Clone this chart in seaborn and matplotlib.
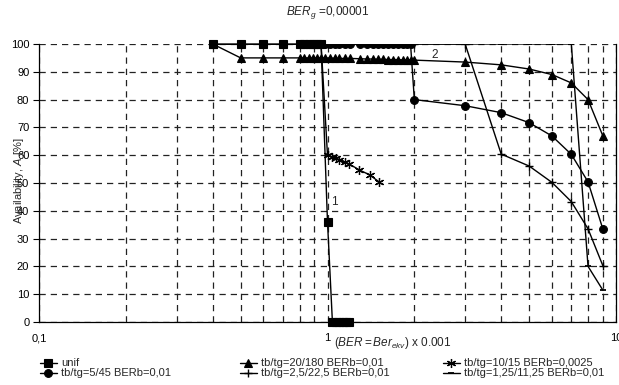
import matplotlib
matplotlib.use("Agg")
import matplotlib.pyplot as plt
import seaborn as sns
from matplotlib.legend import Legend
from matplotlib.ticker import FixedLocator, NullFormatter

# series values (x in units of 0.001)
unif_x = [0.4, 0.5, 0.6, 0.7, 0.8, 0.83, 0.86, 0.89, 0.92, 0.95, 1.0,
          1.04, 1.07, 1.1, 1.13, 1.16, 1.19]
unif_y = [100, 100, 100, 100, 100, 100, 100, 100, 100, 100, 36,
          0, 0, 0, 0, 0, 0]

tri_x = [0.4, 0.5, 0.6, 0.7, 0.8, 0.83, 0.86, 0.89, 0.92, 0.95, 0.98, 1.02,
         1.06, 1.1, 1.15, 1.2, 1.3, 1.37, 1.44, 1.5, 1.56, 1.62, 1.69, 1.75,
         1.82, 1.88, 1.94, 2.0, 3, 4, 5, 6, 7, 8, 9]
tri_y = [100, 95, 95, 95, 95, 95, 95, 95, 95, 95, 95, 94.9,
         94.9, 94.8, 94.8, 94.8, 94.7, 94.6, 94.6, 94.5, 94.5, 94.4, 94.4, 94.4,
         94.3, 94.3, 94.3, 94.2, 93.5, 92.5, 91, 89, 86, 80, 67]

star_x = [0.4, 0.5, 0.6, 0.7, 0.8, 0.83, 0.86, 0.89, 0.92, 0.95, 1.0,
          1.04, 1.07, 1.1, 1.15, 1.19, 1.29, 1.4, 1.51]
star_y = [100, 100, 100, 100, 100, 100, 100, 100, 100, 100, 60,
          59.4, 59, 58.3, 57.5, 56.8, 54.7, 52.9, 50.4]

circ_x = [0.4, 0.5, 0.6, 0.7, 0.8, 0.83, 0.86, 0.89, 0.92, 0.95, 0.98, 1.02,
          1.06, 1.1, 1.15, 1.2, 1.3, 1.37, 1.44, 1.5, 1.56, 1.62, 1.69, 1.75,
          1.82, 1.88, 1.94, 2.0, 3, 4, 5, 6, 7, 8, 9]
circ_y = [100, 100, 100, 100, 100, 100, 100, 100, 100, 100, 100, 100,
          100, 100, 100, 100, 100, 100, 100, 100, 100, 100, 100, 100,
          100, 100, 100, 80, 77.8, 75.3, 71.7, 66.9, 60.3, 50.4, 33.5]

plus_x = [0.4, 0.5, 0.6, 0.7, 0.8, 0.9, 1.0, 2.0, 3, 4, 5, 6, 7, 8, 9]
plus_y = [100, 100, 100, 100, 100, 100, 100, 100, 100, 60.4, 56.1, 50.2, 43.3, 33.5, 20.3]

dash_x = [0.4, 0.5, 0.6, 0.7, 0.8, 0.9, 1.0, 2.0, 3, 4, 5, 6, 7, 8, 9]
dash_y = [100, 100, 100, 100, 100, 100, 100, 100, 100, 100, 100, 100, 100, 20, 11.5]

labels = ["unif", "tb/tg=20/180 BERb=0,01", "tb/tg=10/15 BERb=0,0025",
          "tb/tg=5/45 BERb=0,01", "tb/tg=2,5/22,5 BERb=0,01", "tb/tg=1,25/11,25 BERb=0,01"]
y_ticks = [0, 10, 20, 30, 40, 50, 60, 70, 80, 90, 100]
x_ticks = [0.1, 1, 10]
x_ticklabels = ["0,1", "1", "10"]

sns.set_theme(style="white")
plt.rcParams["font.family"] = ["Liberation Sans", "DejaVu Sans"]
plt.rcParams["mathtext.fontset"] = "custom"
plt.rcParams["mathtext.it"] = "Liberation Sans:italic"
plt.rcParams["mathtext.rm"] = "Liberation Sans"

W, H = 619, 385
fig = plt.figure(figsize=(W / 100, H / 100), dpi=100)
ax = fig.add_axes([39 / W, 1 - 322 / H, (616 - 39) / W, (322 - 44) / H])


def draw(x, y, marker, ms, mew=0.8, clip=True):
    sns.lineplot(x=x, y=y, ax=ax, color="black", linewidth=1.0, marker=marker,
                 markersize=ms, markeredgewidth=mew, markeredgecolor="black",
                 estimator=None, sort=False)
    line = ax.get_lines()[-1]
    line.set_clip_on(clip)
    return line


h_dash = draw(dash_x, dash_y, "_", 5, mew=1.3)
h_plus = draw(plus_x, plus_y, "+", 6, mew=1.0)
h_star = draw(star_x, star_y, (6, 2, 0), 6.5, mew=0.9)
h_tri = draw(tri_x, tri_y, "^", 5.8)
h_circ = draw(circ_x, circ_y, "o", 5.6)
h_unif = draw(unif_x, unif_y, "s", 5.3, clip=False)

if ax.get_legend() is not None:
    ax.get_legend().remove()

ax.set_xscale("log")
ax.set_xlim(0.1, 10)
ax.set_ylim(0, 100)
ax.set_yticks(y_ticks)
ax.xaxis.set_major_locator(FixedLocator(x_ticks))
ax.set_xticklabels(x_ticklabels)
ax.xaxis.set_minor_formatter(NullFormatter())
ax.tick_params(axis="x", which="both", length=0, pad=8, labelsize=8, colors="black")
ax.tick_params(axis="y", length=4, width=0.8, pad=3, labelsize=8, colors="black", left=True)

dash_style = (0, (5, 4))
ax.grid(True, axis="x", which="both", linestyle=dash_style, color="#222222", linewidth=0.9)
ax.grid(True, axis="y", which="major", linestyle=dash_style, color="#222222", linewidth=0.9)
ax.set_axisbelow(True)
for side in ["left", "bottom", "right"]:
    ax.spines[side].set_color("black")
    ax.spines[side].set_linewidth(0.9)
ax.spines["top"].set_visible(False)
ax.set_xlabel("")
ax.set_ylabel("")

ax.text(1.06, 43, "1", fontsize=8.5, ha="center", va="center")
ax.text(2.36, 96, "2", fontsize=8.5, ha="center", va="center")

fig.text(328 / W, 1 - 13 / H, r"$BER_g$ =0,00001", ha="center", va="center", fontsize=8.5)
fig.text(393 / W, 1 - 343 / H, r"$(BER=Ber_{ekv})$ x 0.001", ha="center", va="center", fontsize=8.5)
fig.text(19 / W, 1 - 181 / H, r"Availability, $A$ [%]", rotation=90,
         ha="center", va="center", fontsize=8)

cols = [([h_unif, h_circ], [labels[0], labels[3]], 40),
        ([h_tri, h_plus], [labels[1], labels[4]], 240),
        ([h_star, h_dash], [labels[2], labels[5]], 443)]
for handles, texts, px in cols:
    leg = Legend(fig, handles, texts, loc="center left",
                 bbox_to_anchor=(px / W, 1 - 368.5 / H), bbox_transform=fig.transFigure,
                 frameon=False, fontsize=8, handlelength=1.5, handletextpad=0.4,
                 labelspacing=0.0, borderpad=0, borderaxespad=0)
    fig.legends.append(leg)

fig.savefig("out.png", dpi=100)
